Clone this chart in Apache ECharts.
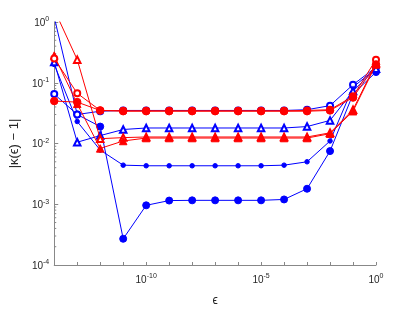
<!DOCTYPE html>
<html><head><meta charset="utf-8">
<script src="https://cdn.jsdelivr.net/npm/echarts@6/dist/echarts.min.js"></script>
<style>html,body{margin:0;padding:0;background:#fff}#c{width:415px;height:312px}</style>
</head><body><div id="c"></div>
<script>
// epsilon exponents (x = 10^e)
const epsExp = [-14,-13,-12,-11,-10,-9,-8,-7,-6,-5,-4,-3,-2,-1,0];
// blue series
const blueBig   = [1.2, 0.03, 0.019, 0.00027, 0.00096, 0.00115, 0.00116, 0.00116, 0.00116, 0.00116, 0.0012, 0.0018, 0.0075, 0.065, 0.15];
const blueSmall = [0.2, 0.023, 0.0078, 0.0044, 0.0043, 0.0043, 0.0043, 0.0043, 0.0043, 0.0043, 0.0044, 0.005, 0.011, 0.085, 0.17];
const blueOpenC = [0.065, 0.03, 0.034, 0.035, 0.035, 0.035, 0.035, 0.035, 0.035, 0.035, 0.035, 0.036, 0.042, 0.093, 0.18];
const blueOpenT = [0.22, 0.0105, 0.0135, 0.017, 0.018, 0.018, 0.018, 0.018, 0.018, 0.018, 0.018, 0.019, 0.024, 0.073, 0.17];
// red series
const redFillC  = [0.05, 0.048, 0.035, 0.034, 0.034, 0.034, 0.034, 0.034, 0.034, 0.034, 0.034, 0.034, 0.035, 0.057, 0.2];
const redOpenC  = [0.25, 0.067, 0.035, 0.0345, 0.0345, 0.0345, 0.0345, 0.0345, 0.0345, 0.0345, 0.0345, 0.035, 0.036, 0.06, 0.24];
const redOpenT  = [1.6, 0.24, 0.012, 0.0125, 0.0128, 0.0128, 0.0128, 0.0128, 0.0128, 0.0128, 0.0128, 0.0128, 0.015, 0.036, 0.21];
const redFillT  = [0.28, 0.045, 0.0083, 0.011, 0.0123, 0.0123, 0.0123, 0.0123, 0.0123, 0.0123, 0.0123, 0.0123, 0.0145, 0.034, 0.2];
// tick values
const xLabelExps = [-10, -5, 0];
const yMinorTicks = [];
for (let e = -4; e < 0; e++) for (let m = 2; m <= 9; m++) yMinorTicks.push(m * Math.pow(10, e));

const BLUE = '#0000ff', RED = '#ff0000';
const FONT = 'Liberation Sans, Arial, Helvetica, sans-serif';
const TXT = '#262626';
const xs = epsExp.map(e => Math.pow(10, e));
function mk(name, vals, color, symbol, size, z) {
  return {
    name, type: 'line', data: vals.map((v, i) => [xs[i], v]),
    symbol, symbolSize: size, showAllSymbol: true, clip: true,
    lineStyle: { color, width: 1 },
    itemStyle: { color, borderColor: color, borderWidth: 1 },
    z, emphasis: { disabled: true }
  };
}
function supFmt(v) {
  const e = Math.round(Math.log10(v));
  return '{b|10}{s|' + e + '}';
}
const rich = {
  b: { fontSize: 10, fontFamily: FONT, color: TXT, verticalAlign: 'bottom' },
  s: { fontSize: 7, fontFamily: FONT, color: TXT, verticalAlign: 'top', padding: [0, 0, 5, 0] }
};
const chart = echarts.init(document.getElementById('c'), null, { renderer: 'canvas' });
chart.setOption({
  animation: false,
  backgroundColor: '#fff',
  grid: { left: 54, right: 39, top: 22, bottom: 44 },
  xAxis: {
    type: 'log', logBase: 10, min: 1e-14, max: 1, interval: 1,
    name: 'ϵ', nameLocation: 'middle', nameGap: 30,
    nameTextStyle: { fontSize: 12, fontFamily: FONT, color: TXT },
    axisLine: { show: true, lineStyle: { color: '#888', width: 1 } },
    axisTick: { show: true, inside: true, length: 3, lineStyle: { color: '#888' } },
    splitLine: { show: false },
    axisLabel: {
      margin: 8,
      formatter: v => { const e = Math.round(Math.log10(v)); return xLabelExps.includes(e) ? supFmt(v) : ''; },
      rich
    }
  },
  yAxis: {
    type: 'log', logBase: 10, min: 1e-4, max: 1, interval: 1,
    name: '|κ(ϵ) − 1|', nameLocation: 'middle', nameGap: 26, nameRotate: 90,
    nameTextStyle: { fontSize: 13, fontFamily: FONT, color: TXT },
    axisLine: { show: true, lineStyle: { color: '#888', width: 1 } },
    axisTick: { show: true, inside: true, length: 4, lineStyle: { color: '#888' } },
    splitLine: { show: false },
    axisLabel: { margin: 5, formatter: supFmt, rich }
  },
  series: [
    {
      type: 'custom', silent: true, z: 1,
      data: yMinorTicks.map(v => [1e-14, v]),
      renderItem: (params, api) => {
        const p = api.coord([api.value(0), api.value(1)]);
        return { type: 'line', shape: { x1: p[0], y1: p[1], x2: p[0] + 2, y2: p[1] }, style: { stroke: '#888', lineWidth: 1 } };
      }
    },
    mk('bBig', blueBig, BLUE, 'circle', 7, 2),
    mk('bSmall', blueSmall, BLUE, 'circle', 4.5, 2),
    mk('bOpenC', blueOpenC, BLUE, 'emptyCircle', 6, 2),
    mk('bOpenT', blueOpenT, BLUE, 'emptyTriangle', 6.5, 2),
    mk('rOpenT', redOpenT, RED, 'emptyTriangle', 6.5, 3),
    mk('rFillT', redFillT, RED, 'triangle', 7.5, 3),
    mk('rOpenC', redOpenC, RED, 'emptyCircle', 6, 3),
    mk('rFillC', redFillC, RED, 'circle', 7.5, 3)
  ]
});
</script></body></html>
